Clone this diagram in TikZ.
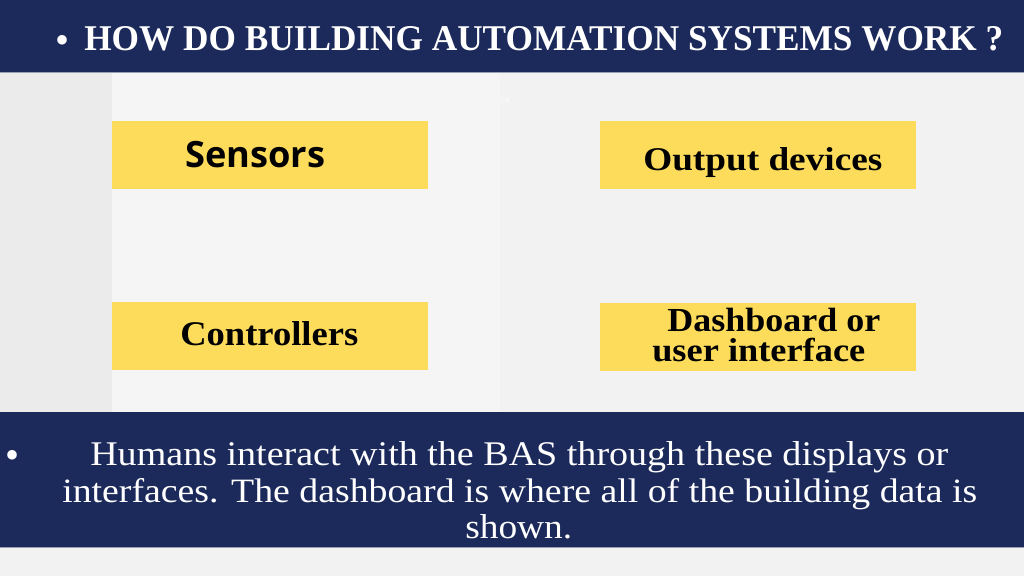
\documentclass[tikz,border=0pt]{standalone}
\usepackage{fontspec}
\usepackage{graphicx}
\setmainfont{Liberation Serif}
\newfontfamily\opensans{Open Sans}
\definecolor{navy}{HTML}{1C2A5B}
\definecolor{boxyellow}{HTML}{FDDC5C}
\definecolor{bggray}{HTML}{F2F2F2}
\definecolor{leftgray}{HTML}{EBEBEB}
\definecolor{midgray}{HTML}{F5F5F5}
\begin{document}
\begin{tikzpicture}[x=0.75pt,y=-0.75pt,
  ybox/.style={fill=boxyellow,draw=none,anchor=north west,minimum width=237pt,minimum height=51pt,inner sep=0pt},
  lbl/.style={inner sep=0pt,anchor=base west},
  wlbl/.style={inner sep=0pt,anchor=base west,text=white},
  bul/.style={inner sep=0pt,text=white,font=\fontsize{30}{30}\selectfont},
]
\useasboundingbox (0,0) rectangle (1024,576);
% background
\fill[bggray] (0,0) rectangle (1024,576);
\fill[leftgray] (0,72) rectangle (112,412);
\fill[midgray] (112,72) rectangle (500,412);
% banners
\fill[navy] (0,0) rectangle (1024,72);
\draw[color=navy!45!white,line width=0.75pt] (0,72) -- (1024,72);
\fill[navy] (0,412) rectangle (1024,547);
\draw[color=navy!45!white,line width=0.75pt] (0,547) -- (1024,547);
% faint watermark
\node[inner sep=0pt,text=white,font=\tiny] (tr) at (505,100) {T/R};
% title
\node[bul] (tbul) at (63,44.5) {\textbullet};
\node[wlbl] (title) at (84,50) {\resizebox{689.25pt}{18pt}{\bfseries HOW DO BUILDING AUTOMATION SYSTEMS WORK ?}};
% boxes
\node[ybox] (sensors) at (112,121) {};
\node[ybox] (output) at (600,121) {};
\node[ybox] (controllers) at (112,302) {};
\node[ybox] (dashboard) at (600,303) {};
% box labels
\node[lbl] (sensorst) at (185,167) {\resizebox{105pt}{!}{\opensans\bfseries Sensors}};
\node[lbl] (outputt) at (643,170) {\resizebox{179.25pt}{17.25pt}{\bfseries Output devices}};
\node[lbl] (controllerst) at (180,345) {\resizebox{133.5pt}{18pt}{\bfseries Controllers}};
\node[lbl] (dasht1) at (667,331) {\resizebox{159.75pt}{17.5pt}{\bfseries Dashboard or}};
\node[lbl] (dasht2) at (652,361) {\resizebox{159.75pt}{17.5pt}{\bfseries user interface}};
% bottom text
\node[bul] (bbul) at (13,459.5) {\textbullet};
\node[wlbl] (line1) at (90,465) {\resizebox{643.5pt}{18pt}{Humans interact with the BAS through these displays or}};
\node[wlbl] (line2) at (62,502) {\resizebox{686.25pt}{18pt}{interfaces. The dashboard is where all of the building data is}};
\node[wlbl] (line3) at (465,538) {\resizebox{80.25pt}{18pt}{shown.}};
\end{tikzpicture}
\end{document}
